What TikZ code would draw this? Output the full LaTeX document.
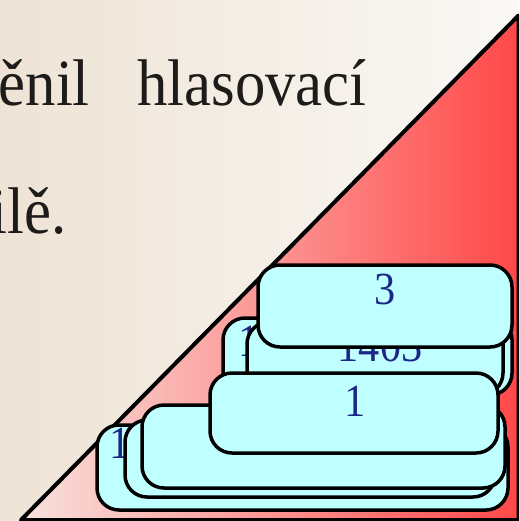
\documentclass[tikz,border=0pt]{standalone}
\usepackage{fontspec}
\IfFileExists{ygoth.tfm}{%
  \DeclareFontFamily{U}{ygoth}{}%
  \DeclareFontShape{U}{ygoth}{m}{n}{<-> ygoth}{}%
  \newcommand\gothsel{\fontencoding{U}\fontfamily{ygoth}\fontseries{m}\fontshape{n}\selectfont}%
}{%
  \newfontfamily\gothfallback[FakeStretch=0.92]{Liberation Serif}%
  \newcommand\gothsel{\gothfallback}%
}
\definecolor{bgL}{RGB}{238,227,213}
\definecolor{bgR}{RGB}{250,249,246}
\definecolor{triL}{RGB}{248,226,222}
\definecolor{triR}{RGB}{255,72,72}
\definecolor{boxcyan}{RGB}{192,255,255}
\definecolor{boxblue}{RGB}{28,38,135}
\definecolor{ink}{RGB}{30,28,26}
\begin{document}
\begin{tikzpicture}[x=1pt,y=-1pt,
  cbox/.style={draw=black, line width=3.5pt, fill=boxcyan, rounded corners=22pt},
  btext/.style={text=boxblue, font=\fontsize{46}{52}\gothsel, inner sep=0pt},
  ptext/.style={text=ink, font=\fontsize{66}{74}\gothsel, inner sep=0pt}]
\useasboundingbox (0,0) rectangle (519,521);
\clip (0,0) rectangle (519,521);
% background
\shade[left color=bgL, right color=bgR] (0,0) rectangle (519,521);
% paragraph text
\node[ptext, anchor=base east] (w1) at (90,106) {\v{e}nil};
\node[ptext, anchor=base west] (w2) at (137,106) {hlasovac\'{\i}};
\node[ptext, anchor=base east] (w3) at (67,233) {il\v{e}.};
% triangle
\shade[left color=triL, right color=triR] (518.5,15.5) -- (518.5,520) -- (21,520) -- cycle;
\draw[line width=4pt, line join=round] (518.5,15.5) -- (518.5,520) -- (21,520) -- cycle;
% boxes back to front
\draw[cbox] (97,425) rectangle (508,510);
\node[btext, anchor=west] (ta) at (109,443) {1};
\draw[cbox] (125,420) rectangle (495,497);
\draw[cbox] (142,405) rectangle (505,488);
\draw[cbox] (223,318) rectangle (512,395);
\node[btext, anchor=west] (te) at (238,341) {1};
\draw[cbox] (247,322) rectangle (503,395);
\node[btext] (tf) at (380,346) {1403};
\draw[cbox] (258,265) rectangle (512,347);
\node[btext] (t3) at (385,289) {3};
\draw[cbox] (210,373) rectangle (498,453);
\node[btext] (t1) at (355,401) {1};
\end{tikzpicture}
\end{document}
